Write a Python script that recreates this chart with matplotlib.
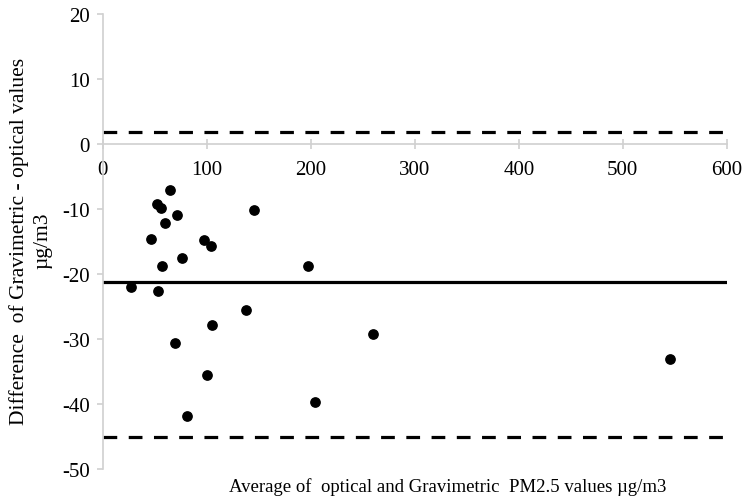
import matplotlib.pyplot as plt

# average of optical and gravimetric PM2.5 (x) vs difference (y)
avg_vals = [65, 52, 56, 71, 60, 46, 97, 104, 76, 57, 145, 197, 27, 53,
            138, 105, 69, 100, 204, 81, 260, 545]
diff_vals = [-7.1, -9.3, -9.8, -11.0, -12.1, -14.6, -14.8, -15.7, -17.6, -18.7,
             -10.1, -18.7, -22.0, -22.7, -25.6, -27.8, -30.6, -35.6, -39.7,
             -41.9, -29.2, -33.1]

mean_diff = -21.2
upper_loa = 1.9
lower_loa = -45.1

x_ticks = [0, 100, 200, 300, 400, 500, 600]
y_ticks = [-50, -40, -30, -20, -10, 0, 10, 20]

plt.rcParams['font.family'] = ['Liberation Serif', 'DejaVu Serif']
plt.rcParams['axes.unicode_minus'] = False

fig = plt.figure(figsize=(7.45, 5.02), dpi=100)
ax = fig.add_axes([0.138, 0.064, 0.8375, 0.906])

ax.axhline(mean_diff, color='black', lw=2.3)
ax.axhline(upper_loa, color='black', lw=2.3, dashes=(4.3, 3.6))
ax.axhline(lower_loa, color='black', lw=2.3, dashes=(4.3, 3.6))
ax.scatter(avg_vals, diff_vals, s=45, color='black', zorder=3)

ax.set_xlim(0, 600)
ax.set_ylim(-50, 20)
ax.set_xticks(x_ticks)
ax.set_yticks(y_ticks)

for side in ['top', 'right']:
    ax.spines[side].set_visible(False)
ax.spines['bottom'].set_position(('data', 0))
for side in ['left', 'bottom']:
    ax.spines[side].set_color('#d0d0d0')
    ax.spines[side].set_linewidth(1.2)
ax.tick_params(axis='both', colors='#d0d0d0', width=1.2,
               labelcolor='black', labelsize=15)
ax.tick_params(axis='y', length=4.5, pad=5)
ax.tick_params(axis='x', direction='inout', length=7, pad=8)

fig.text(0.601, 0.03, 'Average of  optical and Gravimetric  PM2.5 values \u00b5g/m3',
         ha='center', va='center', fontsize=13.5)
fig.text(0.025, 0.52, 'Difference  of Gravimetric - optical values',
         rotation=90, ha='center', va='center', fontsize=15.5)
fig.text(0.057, 0.52, '\u00b5g/m3', rotation=90, ha='center', va='center', fontsize=15.5)

fig.savefig('out.png', dpi=100)
